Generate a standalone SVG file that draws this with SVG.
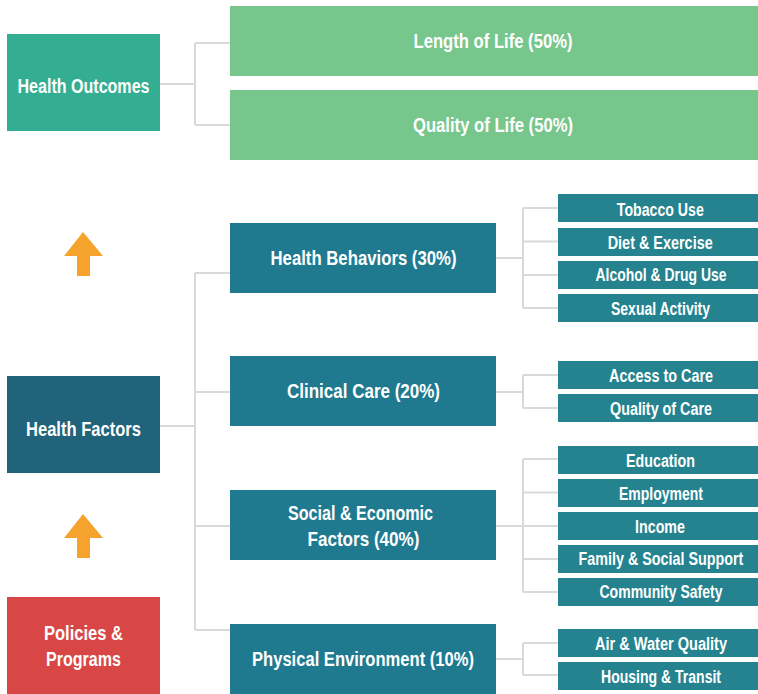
<svg xmlns="http://www.w3.org/2000/svg" width="758" height="694" viewBox="0 0 758 694">
<style>
text{font-family:"Liberation Sans",Arial,sans-serif;font-weight:bold;fill:#fff;text-anchor:middle}
.t1{font-size:21px}
.t3{font-size:18px}
.out{fill:#33AE93}
.grn{fill:#77C68C}
.fac{fill:#20637A}
.pol{fill:#D94646}
.l2{fill:#1F7A8F}
.l3{fill:#25838F}
.arr{fill:#F6A32D}
#connectors path{fill:none;stroke:#D9D9D9;stroke-width:2}
</style>
<g id="connectors">
<path d="M160 84H195M195 43V125M195 43H230M195 125H230"/>
<path d="M160 426H195M195 273V630M195 273H230M195 392H230M195 526H230M195 630H230"/>
<path d="M496 258H523M523 208V308M523 208H558M523 241.5H558M523 275H558M523 308H558"/>
<path d="M496 392H523M523 375V408M523 375H558M523 408H558"/>
<path d="M496 526H523M523 459V592M523 459H558M523 492.5H558M523 526H558M523 559H558M523 592H558"/>
<path d="M496 659H523M523 643V675M523 643H558M523 675H558"/>
</g>
<g id="health-outcomes"><rect class="out" x="7" y="34" width="153" height="97"/><text class="t1" x="83.5" y="93" textLength="132" lengthAdjust="spacingAndGlyphs">Health Outcomes</text></g>
<g id="length-of-life"><rect class="grn" x="230" y="6" width="528" height="70"/><text class="t1" x="493" y="47.5" textLength="159" lengthAdjust="spacingAndGlyphs">Length of Life (50%)</text></g>
<g id="quality-of-life"><rect class="grn" x="230" y="90" width="528" height="70"/><text class="t1" x="493" y="131.5" textLength="160" lengthAdjust="spacingAndGlyphs">Quality of Life (50%)</text></g>
<g id="arrow-1"><path class="arr" d="M83 232L103 256H90V276H77V256H64Z"/></g>
<g id="arrow-2"><path class="arr" d="M83 514L103 538H90V558H77V538H64Z"/></g>
<g id="health-factors"><rect class="fac" x="7" y="376" width="153" height="97"/><text class="t1" x="83.5" y="436" textLength="115" lengthAdjust="spacingAndGlyphs">Health Factors</text></g>
<g id="policies-programs"><rect class="pol" x="7" y="597" width="153" height="97"/><text class="t1" x="83.5" y="640" textLength="79" lengthAdjust="spacingAndGlyphs">Policies &amp;</text><text class="t1" x="83.5" y="666" textLength="75" lengthAdjust="spacingAndGlyphs">Programs</text></g>
<g id="health-behaviors"><rect class="l2" x="230" y="223" width="266" height="70"/><text class="t1" x="363.5" y="264.5" textLength="186" lengthAdjust="spacingAndGlyphs">Health Behaviors (30%)</text></g>
<g id="clinical-care"><rect class="l2" x="230" y="356" width="266" height="70"/><text class="t1" x="363.5" y="397.5" textLength="153" lengthAdjust="spacingAndGlyphs">Clinical Care (20%)</text></g>
<g id="social-economic"><rect class="l2" x="230" y="490" width="266" height="70"/><text class="t1" x="360.5" y="520" textLength="145" lengthAdjust="spacingAndGlyphs">Social &amp; Economic</text><text class="t1" x="363.5" y="545.7" textLength="112" lengthAdjust="spacingAndGlyphs">Factors (40%)</text></g>
<g id="physical-environment"><rect class="l2" x="230" y="624" width="266" height="70"/><text class="t1" x="363" y="665.5" textLength="222" lengthAdjust="spacingAndGlyphs">Physical Environment (10%)</text></g>
<g id="tobacco-use"><rect class="l3" x="558" y="194" width="200" height="28"/><text class="t3" x="660.3" y="215.5" textLength="87" lengthAdjust="spacingAndGlyphs">Tobacco Use</text></g>
<g id="diet-exercise"><rect class="l3" x="558" y="228" width="200" height="28"/><text class="t3" x="660.2" y="249" textLength="105" lengthAdjust="spacingAndGlyphs">Diet &amp; Exercise</text></g>
<g id="alcohol-drug-use"><rect class="l3" x="558" y="261" width="200" height="28"/><text class="t3" transform="translate(661 281) scale(0.775 1)" x="0" y="0" textLength="169" lengthAdjust="spacingAndGlyphs">Alcohol &amp; Drug Use</text></g>
<g id="sexual-activity"><rect class="l3" x="558" y="294" width="200" height="28"/><text class="t3" x="660.5" y="314.5" textLength="99" lengthAdjust="spacingAndGlyphs">Sexual Activity</text></g>
<g id="access-to-care"><rect class="l3" x="558" y="361" width="200" height="28"/><text class="t3" x="661" y="381.5" textLength="104" lengthAdjust="spacingAndGlyphs">Access to Care</text></g>
<g id="quality-of-care"><rect class="l3" x="558" y="394" width="200" height="28"/><text class="t3" x="661" y="414.5" textLength="102" lengthAdjust="spacingAndGlyphs">Quality of Care</text></g>
<g id="education"><rect class="l3" x="558" y="446" width="200" height="28"/><text class="t3" x="660.5" y="466.5" textLength="69" lengthAdjust="spacingAndGlyphs">Education</text></g>
<g id="employment"><rect class="l3" x="558" y="479" width="200" height="28"/><text class="t3" x="661" y="499.5" textLength="84" lengthAdjust="spacingAndGlyphs">Employment</text></g>
<g id="income"><rect class="l3" x="558" y="512" width="200" height="28"/><text class="t3" x="660" y="532.5" textLength="50" lengthAdjust="spacingAndGlyphs">Income</text></g>
<g id="family-social-support"><rect class="l3" x="558" y="545" width="200" height="28"/><text class="t3" transform="translate(661 564.5) scale(0.8 1)" x="0" y="0" textLength="206" lengthAdjust="spacingAndGlyphs">Family &amp; Social Support</text></g>
<g id="community-safety"><rect class="l3" x="558" y="578" width="200" height="28"/><text class="t3" x="661" y="598" textLength="123" lengthAdjust="spacingAndGlyphs">Community Safety</text></g>
<g id="air-water-quality"><rect class="l3" x="558" y="629" width="200" height="28"/><text class="t3" x="661" y="649.5" textLength="132" lengthAdjust="spacingAndGlyphs">Air &amp; Water Quality</text></g>
<g id="housing-transit"><rect class="l3" x="558" y="662" width="200" height="28"/><text class="t3" x="661" y="682.5" textLength="120" lengthAdjust="spacingAndGlyphs">Housing &amp; Transit</text></g>
</svg>
